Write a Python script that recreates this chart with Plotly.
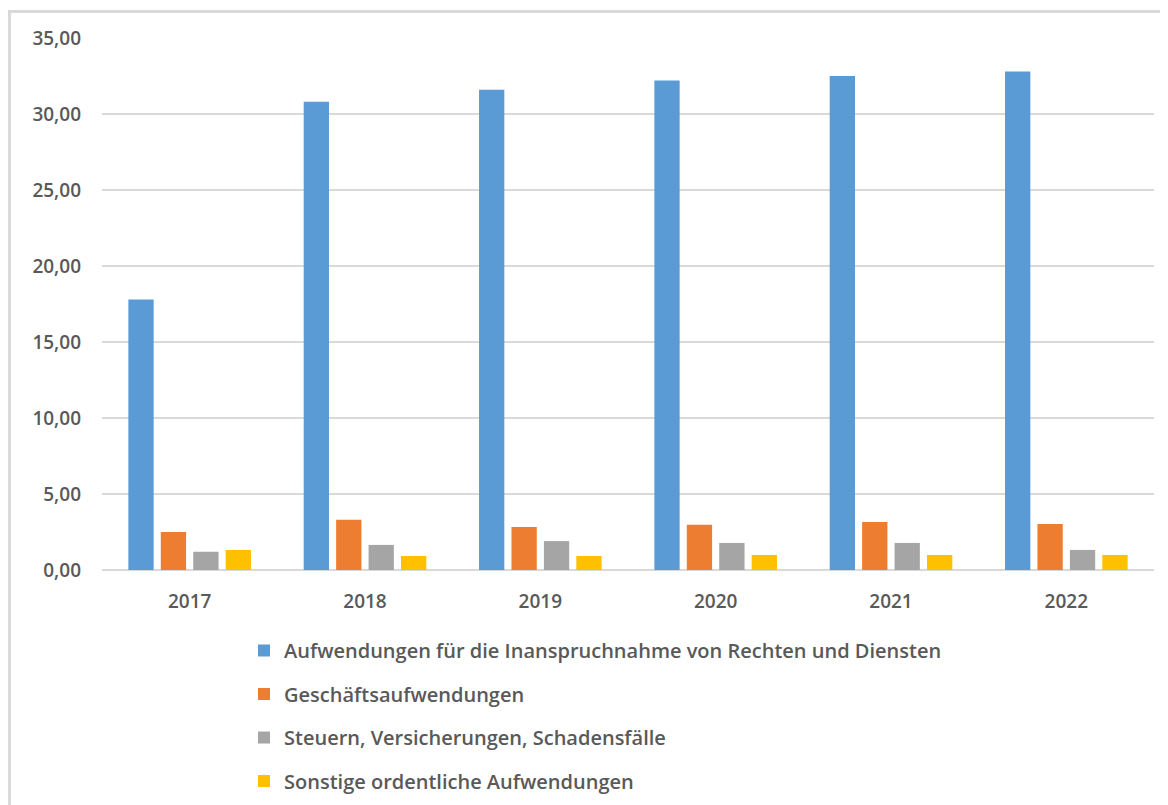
import plotly.graph_objects as go

years = ["2017", "2018", "2019", "2020", "2021", "2022"]
rechte_dienste = [17.8, 30.8, 31.6, 32.2, 32.5, 32.8]
geschaeft = [2.5, 3.3, 2.83, 2.97, 3.16, 3.03]
steuern = [1.2, 1.65, 1.9, 1.78, 1.78, 1.32]
sonstige = [1.32, 0.92, 0.92, 0.99, 0.99, 0.99]

series_names = [
    "Aufwendungen für die Inanspruchnahme von Rechten und Diensten",
    "Geschäftsaufwendungen",
    "Steuern, Versicherungen, Schadensfälle",
    "Sonstige ordentliche Aufwendungen",
]
series_values = [rechte_dienste, geschaeft, steuern, sonstige]
colors = ["#5B9BD5", "#ED7D31", "#A5A5A5", "#FFC000"]
y_ticks = [0, 5, 10, 15, 20, 25, 30, 35]

fig = go.Figure()
for i, (name, vals, col) in enumerate(zip(series_names, series_values, colors)):
    fig.add_trace(go.Bar(x=years, y=vals, name=name, marker_color=col,
                         marker_line_width=0, legendgroup=f"g{i}"))

# page body has an 8px default margin; coordinates below are figure coords
W, H = 1168, 805
L, R, T, B = 94, 22, 30, 243
pw, ph = W - L - R, H - T - B

def px_x(p):
    return (p - L) / pw

def px_y(p):
    return (H - B - p) / ph

tick_font = dict(size=19, color="#595959", weight=600)

fig.update_layout(
    width=W, height=H,
    margin=dict(l=L, r=R, t=T, b=B, pad=0),
    paper_bgcolor="white", plot_bgcolor="white",
    separators=",.",
    barmode="group", bargap=0.26, bargroupgap=0.22,
    font=dict(family="Open Sans", color="#595959", size=15),
    showlegend=True,
    legend=dict(
        orientation="v", x=px_x(236), xanchor="left", y=px_y(623), yanchor="top",
        font=dict(size=20, color="#595959", weight=600), tracegroupgap=14.5,
        bgcolor="rgba(0,0,0,0)",
    ),
    xaxis=dict(showgrid=False, showline=False, ticks="", ticklabelstandoff=18,
               tickfont=tick_font),
    yaxis=dict(range=[0, 35], tickvals=y_ticks, tickformat=".2f",
               showgrid=True, gridcolor="#d9d9d9", gridwidth=1.5,
               zeroline=True, zerolinecolor="#d9d9d9", zerolinewidth=2,
               showline=False, ticks="", ticklabelstandoff=20,
               tickfont=tick_font),
    shapes=[dict(type="rect", xref="paper", yref="paper",
                 x0=px_x(1.5), x1=px_x(1180), y0=px_y(3.5), y1=px_y(830),
                 line=dict(color="#d9d9d9", width=3), fillcolor="rgba(0,0,0,0)",
                 layer="below")],
)

fig.write_html("out.html")
